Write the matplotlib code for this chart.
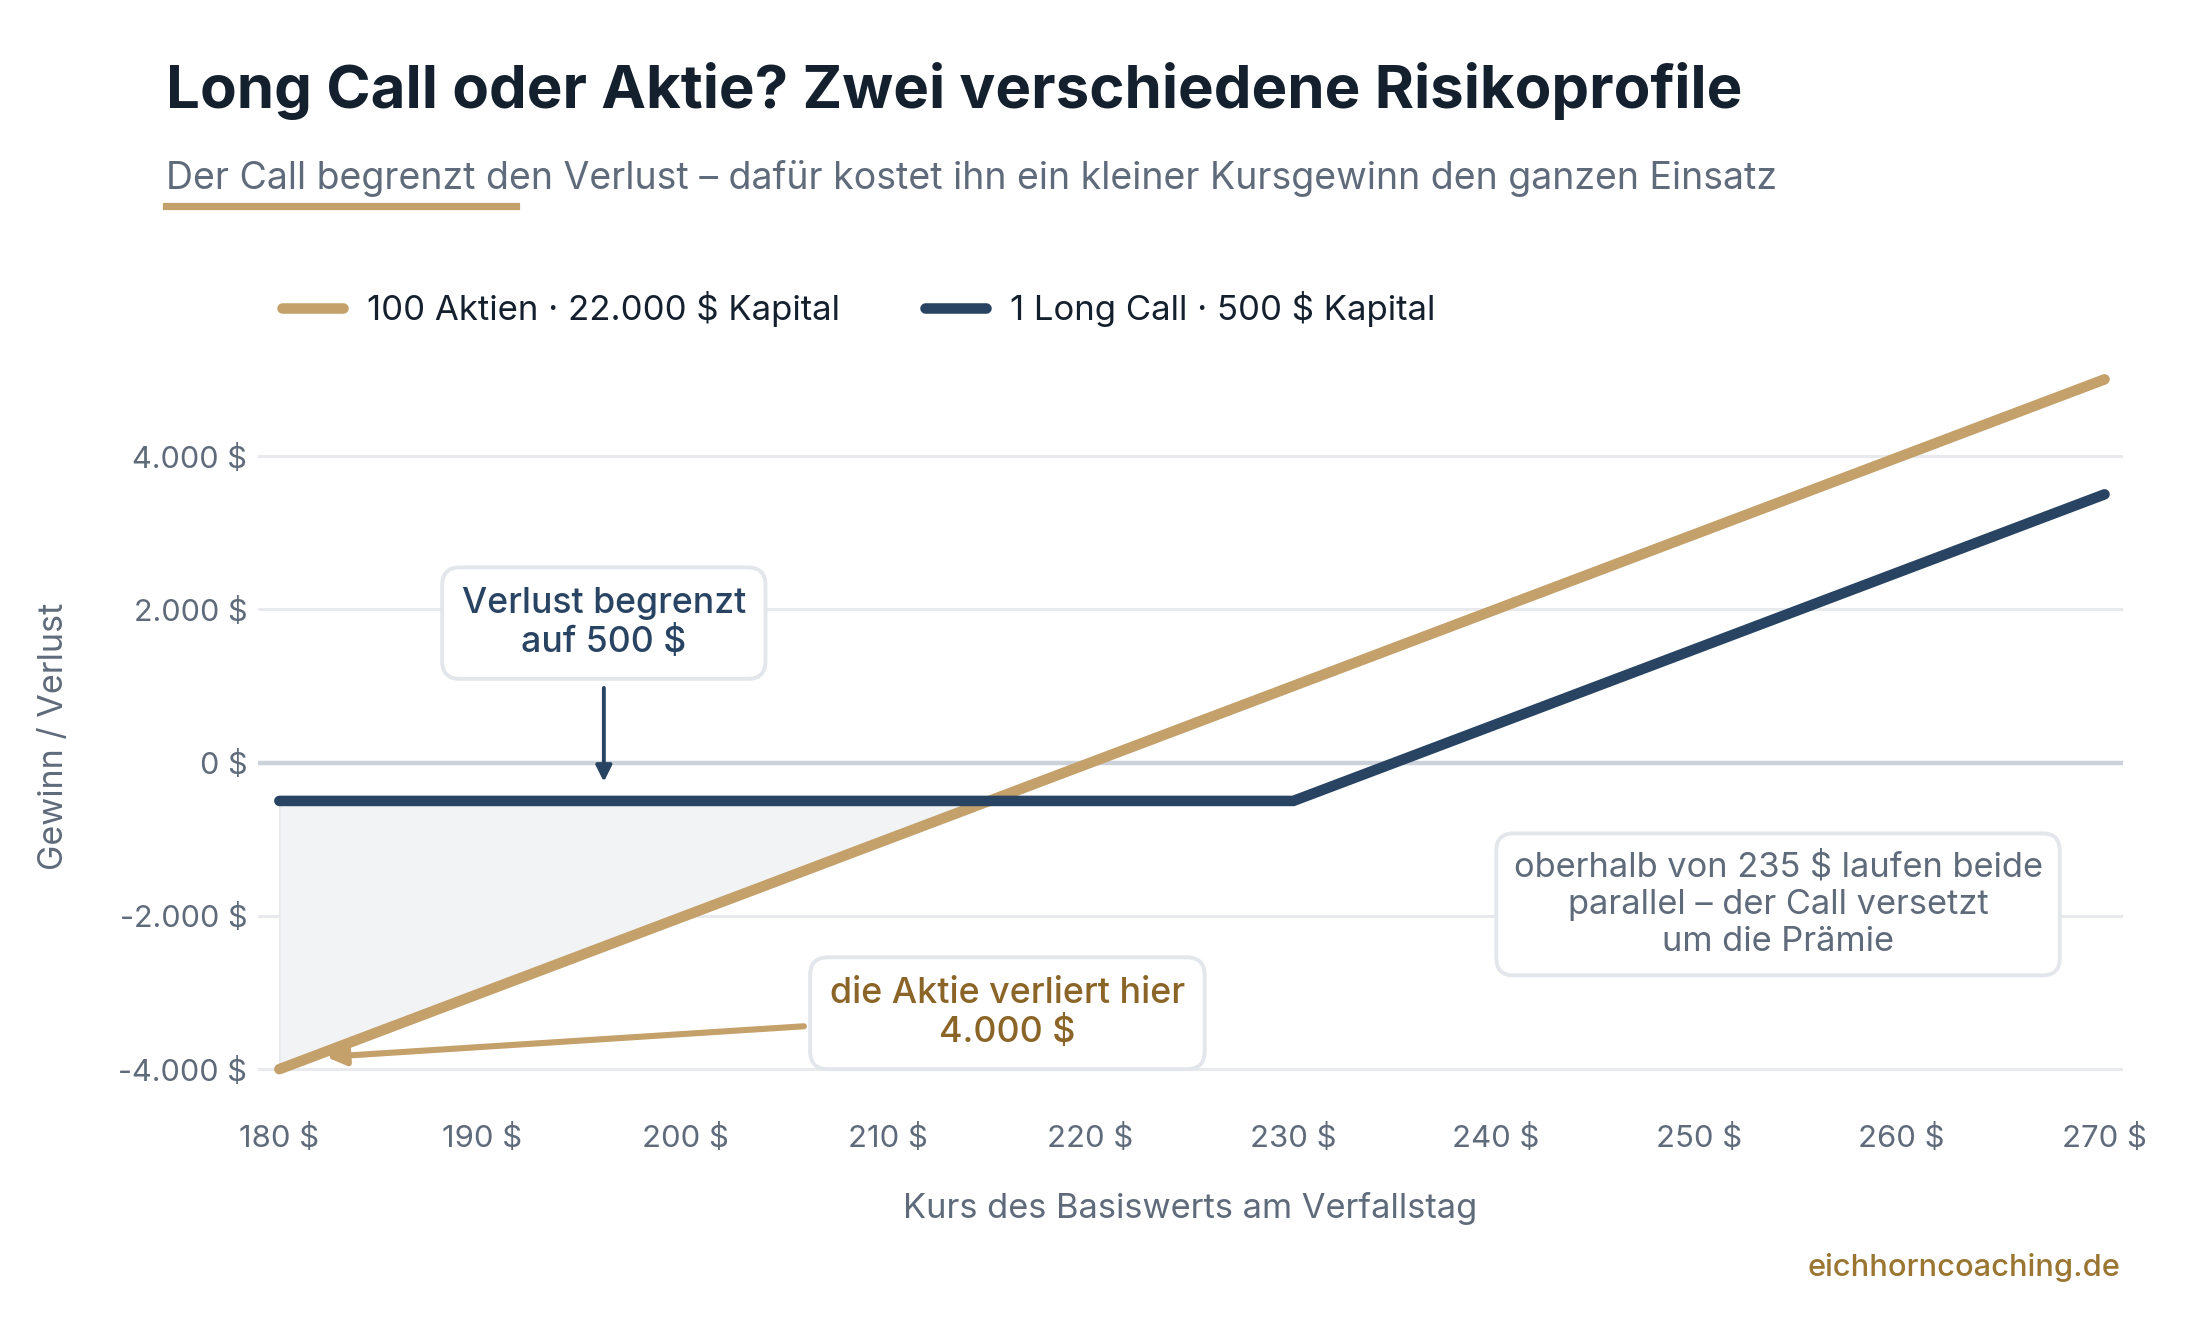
import numpy as np
import matplotlib.pyplot as plt
from matplotlib.lines import Line2D

# Fonts
plt.rcParams['font.family'] = ['Inter', 'DejaVu Sans']

# Data
kurs = [180, 190, 200, 210, 215, 220, 230, 240, 250, 260, 270]
aktie_pl = [-4000, -3000, -2000, -1000, -500, 0, 1000, 2000, 3000, 4000, 5000]
call_pl = [-500, -500, -500, -500, -500, -500, -500, 500, 1500, 2500, 3500]

y_ticks = [-4000, -2000, 0, 2000, 4000]
y_tick_labels = ['-4.000 $', '-2.000 $', '0 $', '2.000 $', '4.000 $']
x_ticks = [180, 190, 200, 210, 220, 230, 240, 250, 260, 270]
x_tick_labels = ['%d $' % v for v in x_ticks]

# Colors
GOLD = '#c4a06b'
GOLD_DARK = '#8a6527'
NAVY = '#284462'
TITLE_C = '#14202e'
GRAY_TXT = '#5f6b7b'
GRID_C = '#e8eaee'
ZERO_C = '#cdd2da'
BOX_EDGE = '#e3e6ea'

fig = plt.figure(figsize=(11, 6.6), dpi=200)
ax = fig.add_axes([0.1174, 0.1755, 0.8475, 0.5516])

# grid lines
for yv in y_ticks:
    ax.axhline(yv, color=ZERO_C if yv == 0 else GRID_C,
               lw=1.6 if yv == 0 else 1.1, zorder=1)

x = np.array(kurs)
a = np.array(aktie_pl)
c = np.array(call_pl)
ax.fill_between(x, a, c, where=a <= c, interpolate=True,
                color='#f2f3f5', edgecolor='#e6e8ec', lw=0.6, zorder=2)

ax.plot(x, a, color=GOLD, lw=3.8, solid_capstyle='round', zorder=3,
        label='100 Aktien · 22.000 $ Kapital')
ax.plot(x, c, color=NAVY, lw=3.8, solid_capstyle='round',
        solid_joinstyle='miter', zorder=4, label='1 Long Call · 500 $ Kapital')

ax.set_xlim(178.96, 270.9)
ax.set_ylim(-4250, 5250)
ax.set_xticks(x_ticks)
ax.set_xticklabels(x_tick_labels)
ax.set_yticks(y_ticks)
ax.set_yticklabels(y_tick_labels)
ax.tick_params(axis='x', length=0, pad=13, labelsize=11.2, labelcolor=GRAY_TXT)
ax.tick_params(axis='y', length=0, pad=4, labelsize=11, labelcolor=GRAY_TXT)
for s in ax.spines.values():
    s.set_visible(False)

ax.set_xlabel('Kurs des Basiswerts am Verfallstag', fontsize=12.4, color=GRAY_TXT)
ax.xaxis.set_label_coords(0.5, -0.143)
ax.set_ylabel('Gewinn / Verlust', fontsize=12.3, color=GRAY_TXT)
ax.yaxis.set_label_coords(-0.101, 0.483)

# annotations
box = dict(boxstyle='round,pad=0.55,rounding_size=0.5', fc='white',
           ec=BOX_EDGE, lw=1.4)
ax.annotate('Verlust begrenzt\nauf 500 $', xy=(196, -250), xytext=(196, 1820),
            ha='center', va='center', fontsize=12.8, fontweight='medium',
            color=NAVY, bbox=box, linespacing=1.2, zorder=6,
            arrowprops=dict(arrowstyle='-|>', color=NAVY, lw=1.4,
                            mutation_scale=12, shrinkA=3, shrinkB=0))

ax.annotate('die Aktie verliert hier\n4.000 $', xy=(182.3, -3840),
            xytext=(215.9, -3270), ha='center', va='center', fontsize=12.9,
            fontweight='medium', color=GOLD_DARK, bbox=box, linespacing=1.2,
            zorder=6,
            arrowprops=dict(arrowstyle='-|>', color=GOLD, lw=2.2,
                            mutation_scale=14, shrinkA=2, shrinkB=0))

ax.text(253.9, -1850, 'oberhalb von 235 $ laufen beide\nparallel – der Call versetzt\num die Prämie',
        ha='center', va='center', fontsize=12.4, color=GRAY_TXT,
        bbox=dict(boxstyle='round,pad=0.5,rounding_size=0.5', fc='white',
                  ec=BOX_EDGE, lw=1.4), linespacing=1.22, zorder=6)

# title & subtitle
fig.text(0.0753, 0.9185, 'Long Call oder Aktie? Zwei verschiedene Risikoprofile',
         fontsize=21.6, fontweight='bold', color=TITLE_C, va='baseline')
fig.text(0.0753, 0.857, 'Der Call begrenzt den Verlust – dafür kostet ihn ein kleiner Kursgewinn den ganzen Einsatz',
         fontsize=13.5, color=GRAY_TXT, va='baseline')
fig.add_artist(Line2D([0.0753, 0.2347], [0.844, 0.844], color=GOLD, lw=2.6,
                      transform=fig.transFigure))

# legend
fig.legend(loc='center left', bbox_to_anchor=(0.114, 0.766), ncol=2,
           frameon=False, fontsize=12.5, handlelength=1.75, handletextpad=0.7,
           columnspacing=2.45, labelcolor=TITLE_C)

fig.text(0.964, 0.040, 'eichhorncoaching.de', ha='right', va='center',
         fontsize=11.1, color='#9a7632', fontweight='medium')

plt.savefig('out.png', dpi=200)
